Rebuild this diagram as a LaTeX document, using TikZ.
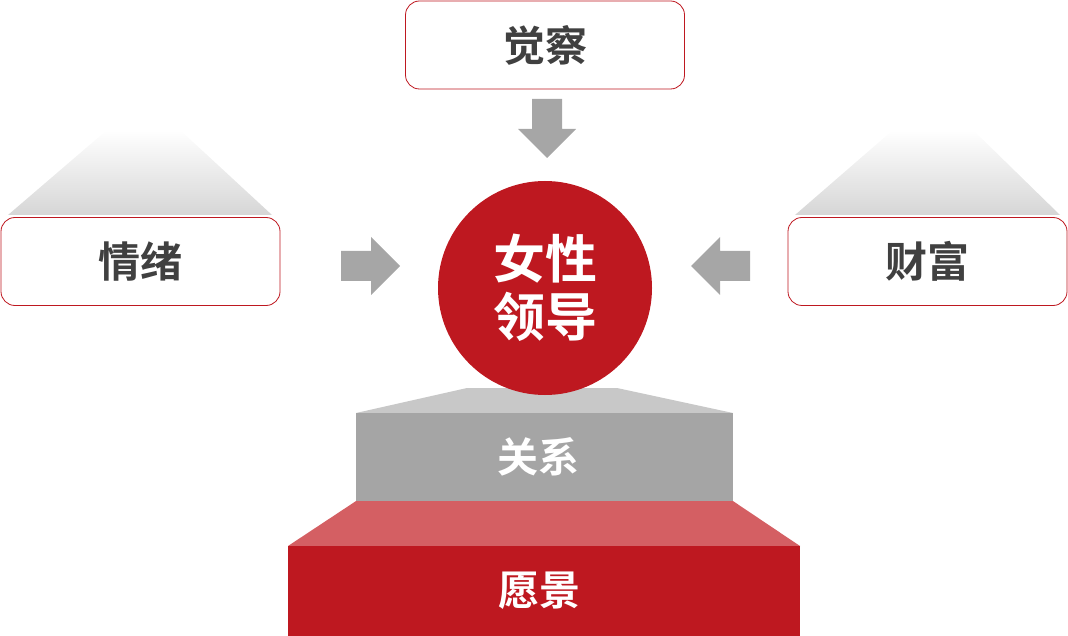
\documentclass[tikz,border=0pt]{standalone}
\usepackage{fontspec}
\newfontfamily\cjk{Noto Sans CJK SC}[BoldFont={Noto Sans CJK SC Bold}]
\usetikzlibrary{positioning}

\definecolor{leadred}{HTML}{BE1820}
\definecolor{softred}{HTML}{D45F63}
\definecolor{stonegray}{HTML}{A5A5A5}
\definecolor{lightstone}{HTML}{C8C8C8}
\definecolor{arrowgray}{HTML}{A6A6A6}
\definecolor{labelgray}{HTML}{404040}
\definecolor{shadowgray}{HTML}{D6D6D6}

\tikzset{
  factor/.style={draw=leadred, line width=0.8pt, rounded corners=14pt, fill=white,
                 minimum width=279pt, minimum height=88pt, inner sep=0pt,
                 text=labelgray, font=\cjk\bfseries\fontsize{42}{48}\selectfont},
  stage/.style={inner sep=0pt, text=white, font=\cjk\bfseries\fontsize{41}{48}\selectfont},
  blockarrow/.style={fill=arrowgray},
  halo/.style={top color=white, bottom color=shadowgray}
}

\begin{document}
\begin{tikzpicture}[x=1pt, y=-1pt]
\useasboundingbox (0,0) rectangle (1068,636);

% faded tops above the side boxes
\shade[halo] (107,130) -- (180,130) -- (272,215) -- (8,215) -- cycle;
\shade[halo] (893,130) -- (973,130) -- (1060,215) -- (795,215) -- cycle;

% the three factors
\node[factor] (aware) at (545,45) {觉察};
\node[factor] (mood) at (140.5,261.5) {情绪};
\node[factor] (wealth) at (927.5,261.5) {财富};

% pedestal
\fill[lightstone] (467,388) -- (617,388) -- (733,413) -- (356,413) -- cycle;
\node[stage, fill=stonegray, minimum width=377pt, minimum height=88pt] (ties) at (544.5,457) {关系\hspace*{12pt}};
\fill[softred] (ties.south west) -- (ties.south east) -- (800,546) -- (288,546) -- cycle;
\node[stage, fill=leadred, minimum width=512pt, minimum height=90pt] (vision) at (544,591) {愿景\hspace*{10pt}};

% centre
\node[circle, fill=leadred, minimum size=214pt, inner sep=0pt, align=center,
      text=white, font=\cjk\bfseries\fontsize{52}{58}\selectfont] (lead) at (545,288) {女性\\领导};

% block arrows
\foreach \tip/\ang in {{(547,158)}/-90, {(400,266)}/0, {(691,266)}/180}
  \fill[blockarrow, shift={\tip}, rotate=\ang]
    (0,0) -- (-29,-29) -- (-29,-15) -- (-59,-15) -- (-59,15) -- (-29,15) -- (-29,29) -- cycle;
\end{tikzpicture}
\end{document}
